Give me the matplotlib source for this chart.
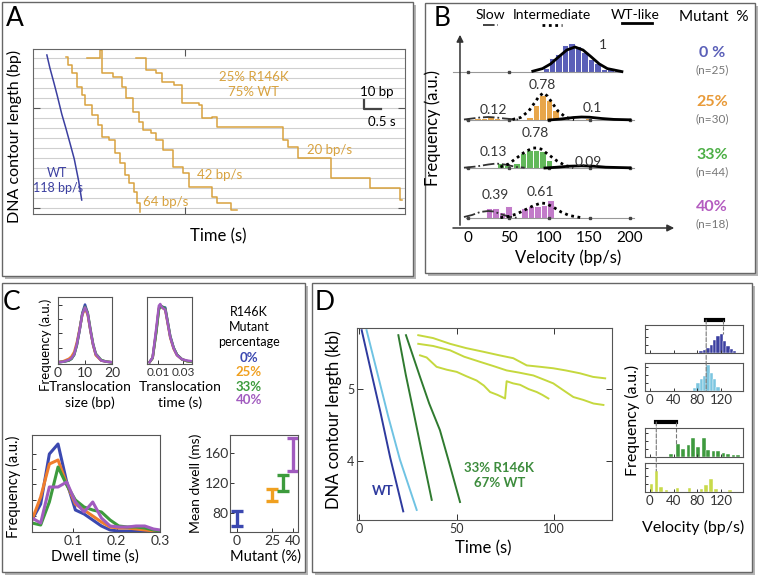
import numpy as np
import matplotlib
matplotlib.use('Agg')
import matplotlib.pyplot as plt
from matplotlib.patches import Rectangle, ConnectionPatch

plt.rcParams['font.family'] = ['Lato', 'DejaVu Sans']

# ---------------- data ----------------
# panel A: translocation traces (time s, DNA bp)
wt_t = [0.41, 0.50, 0.62, 0.72, 0.85, 0.97, 1.10, 1.22, 1.35, 1.44]
wt_bp = [159, 146, 131, 118, 100, 86, 70, 55, 33, 14]
v64_t = [0.97, 1.03, 1.15, 1.29, 1.44, 1.53, 1.74, 1.91, 2.03, 2.26, 2.41, 2.56, 2.71, 2.85, 3.00, 3.09, 3.15]
v64_bp = [157, 149, 141, 127, 119, 109, 99, 89, 77, 74, 61, 51, 39, 31, 22, 11, 2]
v42_t = [1.59, 1.97, 2.03, 2.38, 2.62, 2.76, 2.97, 3.12, 3.26, 3.50, 3.65, 3.85, 4.15, 4.44, 4.62, 5.30, 5.44, 5.85, 6.03]
v42_bp = [156, 164, 141, 137, 127, 116, 102, 92, 84, 81, 74, 64, 47, 41, 27, 17, 11, 4, 4]
v20_t = [3.06, 3.35, 3.65, 3.82, 4.18, 4.41, 4.91, 5.00, 5.30, 5.44, 7.40, 7.55, 7.85, 8.82, 9.97, 10.85, 10.90]
v20_bp = [156, 144, 141, 132, 129, 111, 109, 96, 97, 87, 74, 67, 56, 36, 26, 14, 14]

# panel B: velocity histograms (bin centre bp/s, height) and fitted curves
b_ticks = [0, 50, 100, 150, 200]
b1_v = [96, 104, 112, 120, 128, 136, 144, 152, 160, 168, 176, 184]
b1_h = [4, 14, 18, 27, 29, 26, 20, 13, 9, 3, 4, 3]
b1_fit_v = [80, 92, 102, 112, 122, 132, 142, 152, 162, 172, 190]
b1_fit_h = [0.8, 3.4, 8.1, 15.2, 22, 25, 22, 15.2, 8.1, 3.4, 0.4]
b2_v = [12, 20, 28, 36, 44, 76, 84, 92, 100, 108, 116, 132, 148, 164]
b2_h = [2, 2, 3, 2, 1.5, 3, 15, 25, 20, 10, 3, 1.5, 2, 1.5]
b2_slow_v = [-5, 5, 15, 25, 35, 45, 55, 65]
b2_slow_h = [0.5, 1.5, 2.5, 3, 2.5, 1.5, 0.8, 0.3]
b2_mid_v = [55, 65, 75, 82, 88, 93, 98, 104, 111, 121, 131]
b2_mid_h = [0.5, 2.5, 9, 17, 24, 27, 24, 17, 9, 2.5, 0.5]
b2_wt_v = [100, 115, 130, 140, 150, 165, 180, 200]
b2_wt_h = [0, 1, 2.5, 3, 2.8, 1.5, 0.6, 0.2]
b3_v = [40, 48, 60, 68, 76, 84, 92, 100, 108, 124, 140]
b3_h = [5, 3, 5, 15, 18, 18, 17, 8, 3, 1, 1]
b3_slow_v = [-5, 10, 25, 35, 45, 60, 70]
b3_slow_h = [0.3, 1.5, 3.5, 4.5, 3.5, 1, 0.3]
b3_mid_v = [40, 50, 60, 70, 80, 85, 90, 100, 110, 120, 130]
b3_mid_h = [1, 4, 10, 16, 20, 20, 19, 13, 7, 2.5, 0.5]
b3_wt_v = [95, 110, 125, 140, 155, 170, 200]
b3_wt_h = [0, 0.8, 1.8, 2.2, 1.8, 0.8, 0.2]
b4_v = [26, 34, 42, 50, 70, 78, 86, 94, 102]
b4_h = [10, 10, 6, 12, 10, 12, 12, 13, 18]
b4_slow_v = [-5, 5, 15, 25, 32, 40, 50, 60]
b4_slow_h = [1, 3, 6, 7, 6.5, 4, 1.5, 0.3]
b4_mid_v = [40, 50, 60, 70, 80, 90, 96, 105, 115, 125, 140]
b4_mid_h = [0.3, 1.5, 4, 8, 12, 15, 14.5, 11, 6, 2.5, 0.3]

# panel C: step size, step time, dwell time distributions, mean dwell
c1_x = [0, 2, 4, 5, 6, 7, 8, 9, 10, 11, 12, 13, 14, 16, 18, 20]
c1_y = {
    'blue': [0, 0.01, 0.03, 0.06, 0.13, 0.30, 0.55, 0.85, 1.00, 0.85, 0.55, 0.30, 0.13, 0.03, 0.01, 0],
    'orange': [0, 0.02, 0.06, 0.10, 0.18, 0.35, 0.58, 0.82, 0.93, 0.82, 0.55, 0.30, 0.12, 0.03, 0.01, 0],
    'green': [0, 0.01, 0.03, 0.06, 0.13, 0.30, 0.56, 0.84, 0.96, 0.86, 0.58, 0.32, 0.15, 0.04, 0.01, 0],
    'purple': [0, 0.01, 0.04, 0.07, 0.14, 0.32, 0.56, 0.83, 0.95, 0.84, 0.56, 0.31, 0.14, 0.03, 0.01, 0],
}
c2_x = [0.003, 0.0055, 0.0085, 0.0105, 0.0116, 0.013, 0.0156, 0.0175, 0.0196, 0.0223, 0.025, 0.029, 0.033, 0.036]
c2_y = {
    'blue': [0, 0.08, 0.55, 0.92, 0.96, 0.95, 0.94, 0.70, 0.45, 0.25, 0.13, 0.05, 0.02, 0.01],
    'orange': [0, 0.07, 0.55, 0.93, 0.98, 0.94, 0.90, 0.67, 0.42, 0.23, 0.12, 0.05, 0.02, 0.01],
    'green': [0, 0.07, 0.52, 0.90, 0.95, 0.96, 0.92, 0.70, 0.44, 0.25, 0.13, 0.05, 0.02, 0.01],
    'purple': [0, 0.08, 0.60, 0.97, 1.00, 0.94, 0.90, 0.68, 0.43, 0.24, 0.12, 0.05, 0.03, 0.02],
}
dwell_x = [0.005, 0.025, 0.045, 0.065, 0.085, 0.105, 0.125, 0.145, 0.165, 0.185, 0.205, 0.225, 0.245, 0.265, 0.285, 0.3]
dwell_y = {
    'blue': [12, 28, 78, 88, 50, 22, 18, 12, 6, 2, 1, 1, 1, 0.5, 0.3, 0],
    'orange': [12, 35, 68, 72, 48, 28, 22, 16, 10, 5, 4, 4, 3, 2, 1, 0],
    'green': [9, 7, 30, 65, 47, 32, 25, 22, 20, 12, 6, 5, 5, 4, 2, 1],
    'purple': [14, 9, 45, 45, 50, 30, 20, 30, 14, 6, 5, 5, 6, 6, 3, 2],
}
mutant_pct = [0, 25, 33, 40]
dwell_lo = [63, 96, 110, 136]
dwell_hi = [83, 112, 131, 180]

# panel D: long traces (time s, kb)
d_wt_t = [1.4, 6, 11, 16, 22.7]
d_wt_kb = [5.82, 5.27, 4.68, 4.05, 3.30]
d_lb_t = [3.9, 9, 15, 21, 29.6]
d_lb_kb = [5.82, 5.27, 4.62, 4.02, 3.32]
d_g1_t = [20.2, 24, 28, 32, 37.3]
d_g1_kb = [5.75, 5.20, 4.68, 4.15, 3.46]
d_g2_t = [24.1, 31.3, 36, 41.5, 46, 51.8]
d_g2_kb = [5.75, 5.17, 4.80, 4.43, 4.00, 3.43]
d_y1_t = [30.4, 38, 46.7, 55, 63.7, 72, 79.1, 86, 93, 99.6, 106, 113.3, 120, 126.2]
d_y1_kb = [5.75, 5.71, 5.63, 5.57, 5.52, 5.47, 5.43, 5.33, 5.31, 5.29, 5.26, 5.22, 5.17, 5.15]
d_y2_t = [30.4, 38, 46.7, 54, 62, 69, 75.7, 82, 89.4, 95, 99.6, 105, 109.9, 115, 120.2, 125.3]
d_y2_kb = [5.63, 5.60, 5.54, 5.45, 5.38, 5.32, 5.26, 5.23, 5.19, 5.13, 5.08, 4.98, 4.89, 4.85, 4.80, 4.78]
d_y3_t = [31.3, 34.7, 39.8, 45, 50.1, 55, 60.3, 64, 67.2, 71, 74.9, 75.3, 75.7, 79, 82.6, 87, 91.1, 94, 97.1]
d_y3_kb = [5.47, 5.44, 5.31, 5.27, 5.24, 5.18, 5.12, 5.05, 4.96, 4.92, 4.87, 5.00, 5.11, 5.08, 5.06, 5.00, 4.96, 4.92, 4.87]
h1_v = [86, 92, 98, 104, 109, 115, 121, 126, 132, 138, 143]
h1_h = [2, 3, 5, 8, 13, 17, 19, 12, 7, 4, 2]
h2_v = [76, 81, 87, 92, 98, 104, 109, 115]
h2_h = [3, 8, 12, 15, 26, 18, 12, 4]
h3_v = [36, 48, 56, 65, 73, 81, 91, 98, 107, 115, 124, 132, 141, 149]
h3_h = [3, 13, 8, 12, 19, 10, 19, 7, 6, 6, 4, 3, 2, 2]
h4_v = [3, 11, 19, 28, 47, 67, 87, 95, 103, 112, 135]
h4_h = [8, 21, 5, 2, 4, 4, 3, 7, 13, 3, 2]

# ---------------- figure helpers ----------------
W, H = 762, 580
fig = plt.figure(figsize=(W / 100, H / 100), dpi=100)

def box(x0, y0, x1, y1):
    return fig.add_axes([x0 / W, 1 - y1 / H, (x1 - x0) / W, (y1 - y0) / H])

def ftext(x, y, s, **kw):
    kw.setdefault('ha', 'center')
    kw.setdefault('va', 'center')
    fig.text(x / W, 1 - y / H, s, **kw)

def frame(x0, y0, x1, y1):
    fig.patches.append(Rectangle(((x0 + 3) / W, 1 - (y1 + 3) / H), (x1 - x0) / W, (y1 - y0) / H,
                                 transform=fig.transFigure, facecolor='#b5b5b5', edgecolor='none', zorder=-2))
    fig.patches.append(Rectangle((x0 / W, 1 - y1 / H), (x1 - x0) / W, (y1 - y0) / H,
                                 transform=fig.transFigure, facecolor='white', edgecolor='#666666', lw=1, zorder=-1))

def style(ax, size=9):
    for s in ax.spines.values():
        s.set_color('#555555')
        s.set_linewidth(0.8)
    ax.tick_params(direction='in', length=3, width=0.7, labelsize=size, pad=2, colors='#333333')

frame(2, 2, 413, 276)
frame(425, 3, 755, 273)
frame(2, 283, 305, 572)
frame(312, 283, 752, 572)

# ---------------- panel A ----------------
orange_a = '#d8a23e'
axA = box(33, 49, 405, 214)
axA.set_xlim(0, 11)
axA.set_ylim(0, 165)
for y in np.arange(6, 160, 10):
    axA.axhline(y, color='#cfcfcf', lw=0.8, zorder=0)
axA.plot(wt_t, wt_bp, color='#3b3fa0', lw=1.1)
for t, bp in [(v64_t, v64_bp), (v42_t, v42_bp), (v20_t, v20_bp)]:
    axA.plot(t, bp, color=orange_a, lw=1.1, drawstyle='steps-post')
axA.set_xticks([4.5])
axA.set_yticks([6, 106])
axA.tick_params(direction='in', length=5, top=True, right=True, labelleft=False, labelbottom=False, color='#555555')
for s in axA.spines.values():
    s.set_color('#666666')
axA.plot([9.79, 9.79, 10.29], [114, 105, 105], color='#444444', lw=1.6)
axA.text(10.15, 122, '10 bp', ha='center', va='center', fontsize=9.5)
axA.text(10.3, 92, '0.5 s', ha='center', va='center', fontsize=9.5)
axA.text(0.71, 41, 'WT', color='#3b3fa0', ha='center', va='center', fontsize=9)
axA.text(0.74, 26, '118 bp/s', color='#3b3fa0', ha='center', va='center', fontsize=9)
axA.text(3.24, 12, '64 bp/s', color=orange_a, va='center', fontsize=9.5)
axA.text(4.85, 39, '42 bp/s', color=orange_a, va='center', fontsize=9.5)
axA.text(8.09, 64, '20 bp/s', color=orange_a, va='center', fontsize=9.5)
axA.text(6.53, 137, '25% R146K', color=orange_a, ha='center', va='center', fontsize=9.5)
axA.text(6.53, 122, '75% WT', color=orange_a, ha='center', va='center', fontsize=9.5)
ftext(15, 18, 'A', fontsize=19)
ftext(14, 136, 'DNA contour length (bp)', rotation=90, fontsize=11.5)
ftext(218, 236, 'Time (s)', fontsize=12)

# ---------------- panel B ----------------
cb = ['#5a5fb8', '#e8a64a', '#62b85a', '#c27bc9']
axB = box(445, 30, 685, 232)
axB.set_xlim(-28.4, 267.9)
axB.set_ylim(0, 202)
axB.axis('off')
axB.annotate('', xy=(-9.9, 200), xytext=(-9.9, 4), arrowprops=dict(arrowstyle='-|>', color='#333333', lw=1.1))
axB.annotate('', xy=(258, 4), xytext=(-22, 4), arrowprops=dict(arrowstyle='-|>', color='#333333', lw=1.1))
base = [160, 112, 64, 14]
axB.plot([-18.5, 190], [base[0], base[0]], color='#999999', lw=0.8)
axB.plot([0, 50], [base[0], base[0]], 's', color='#444444', ms=1.5)
for b in base[1:]:
    axB.plot([-3, 205], [b, b], color='#999999', lw=0.8)
    axB.plot(b_ticks, [b] * 5, 's', color='#444444', ms=1.5)
rows = [(b1_v, b1_h), (b2_v, b2_h), (b3_v, b3_h), (b4_v, b4_h)]
for i, (v, h) in enumerate(rows):
    axB.bar(v, h, width=8, bottom=base[i], color=cb[i], edgecolor='white', lw=0.7)
dot = dict(color='black', lw=2, linestyle=(0, (1, 1.3)))
dashdot = dict(color='#333333', lw=1.3, linestyle='-.')
solid = dict(color='black', lw=2)
axB.plot(b1_fit_v, np.array(b1_fit_h) + base[0], **solid)
axB.plot(b2_slow_v, np.array(b2_slow_h) + base[1], **dashdot)
axB.plot(b2_mid_v, np.array(b2_mid_h) + base[1], **dot)
axB.plot(b2_wt_v, np.array(b2_wt_h) + base[1], **solid)
axB.plot(b3_slow_v, np.array(b3_slow_h) + base[2], **dashdot)
axB.plot(b3_mid_v, np.array(b3_mid_h) + base[2], **dot)
axB.plot(b3_wt_v, np.array(b3_wt_h) + base[2], **solid)
axB.plot(b4_slow_v, np.array(b4_slow_h) + base[3], **dashdot)
axB.plot(b4_mid_v, np.array(b4_mid_h) + base[3], **dot)
for v in b_ticks:
    axB.text(v, -6, str(v), ha='center', va='center', fontsize=11, clip_on=False)
# legend samples
axB.plot([18.5, 37], [207, 207], clip_on=False, **dashdot)
axB.plot([91, 116], [207, 207], clip_on=False, **dot)
axB.plot([190, 227], [209, 209], clip_on=False, **solid)
ftext(442, 19, 'B', fontsize=19)
ftext(490, 15, 'Slow', fontsize=10)
ftext(552, 15, 'Intermediate', fontsize=10)
ftext(635, 15, 'WT-like', fontsize=10)
ftext(714, 17, 'Mutant  %', fontsize=11)
ftext(433, 128, 'Frequency (a.u.)', rotation=90, fontsize=12)
ftext(568, 258, 'Velocity (bp/s)', fontsize=12)
for x, y, s in [(603, 45, '1'), (542, 85, '0.78'), (493, 110, '0.12'), (592, 108, '0.1'),
                (535, 133, '0.78'), (493, 152, '0.13'), (588, 162, '0.09'),
                (495, 195, '0.39'), (540, 192, '0.61')]:
    ftext(x, y, s, fontsize=10, color='#333333')
lab_col = ['#5a5fb8', '#e89a38', '#4caf45', '#b45cc0']
for i, (p, n, y) in enumerate([('0 %', 'n=25', 53), ('25%', 'n=30', 102), ('33%', 'n=44', 155), ('40%', 'n=18', 207)]):
    ftext(712, y, p, fontsize=11.5, fontweight='bold', color=lab_col[i])
    ftext(712, y + 17, '(' + n + ')', fontsize=8.5, color='#777777')

# ---------------- panel C ----------------
cc = {'blue': '#3b48b0', 'orange': '#ef7d2c', 'green': '#3d9b3d', 'purple': '#a15bbf'}
order = ['blue', 'orange', 'green', 'purple']
axC1 = box(58, 297, 112, 364)
for k in order:
    axC1.plot(c1_x, c1_y[k], color=cc[k], lw=1.8)
axC1.set_xlim(0, 20)
axC1.set_ylim(-0.03, 1.13)
axC1.set_xticks([0, 10, 20])
axC1.set_yticks([0.25, 0.5, 0.75, 1.0])
axC1.set_yticklabels([])
style(axC1, 10)
axC2 = box(147, 297, 192, 364)
for k in ['blue', 'orange', 'green', 'purple']:
    axC2.plot(c2_x, c2_y[k], color=cc[k], lw=1.8)
axC2.set_xlim(0.001, 0.037)
axC2.set_ylim(-0.03, 1.12)
axC2.set_xticks([0.01, 0.03])
axC2.set_xticklabels(['0.01', '0.03'])
axC2.set_yticks([])
style(axC2, 8.5)
ftext(12, 303, 'C', fontsize=19)
ftext(46, 345, 'Frequency (a.u.)', rotation=90, fontsize=9.5)
ftext(90, 387, 'Translocation', fontsize=10)
ftext(90, 403, 'size (bp)', fontsize=10)
ftext(180, 387, 'Translocation', fontsize=10)
ftext(180, 403, 'time (s)', fontsize=10)
ftext(249, 312, 'R146K', fontsize=9)
ftext(249, 327, 'Mutant', fontsize=9)
ftext(249, 342, 'percentage', fontsize=9)
for s, y, col in [('0%', 358, '#3b48b0'), ('25%', 372, '#f0a020'), ('33%', 387, '#3d9b3d'), ('40%', 400, '#a15bbf')]:
    ftext(249, y, s, fontsize=9.5, fontweight='bold', color=col)

axC3 = box(32, 435, 160, 532)
for k in order:
    axC3.plot(dwell_x, dwell_y[k], color=cc[k], lw=2.2)
axC3.set_xlim(0.005, 0.3)
axC3.set_ylim(0, 97)
axC3.set_xticks([0.1, 0.2, 0.3])
axC3.set_yticks([16, 32, 48, 63, 78])
axC3.set_yticklabels([])
style(axC3, 10)
ftext(13, 487, 'Frequency (a.u.)', rotation=90, fontsize=10.5)
ftext(95, 557, 'Dwell time (s)', fontsize=10.5)

axC4 = box(230, 435, 298, 532)
err_col = ['#3b48b0', '#f0a020', '#3d9b3d', '#a15bbf']
for x, lo, hi, c in zip(mutant_pct, dwell_lo, dwell_hi, err_col):
    axC4.errorbar([x], [(lo + hi) / 2], yerr=[(hi - lo) / 2], fmt='none', ecolor=c,
                  elinewidth=2.4, capsize=4, capthick=2.4)
axC4.set_xlim(-5, 43.6)
axC4.set_ylim(55, 184)
axC4.set_xticks([0, 25, 40])
axC4.set_yticks([80, 120, 160])
style(axC4, 10)
axC4.tick_params(axis='y', pad=1)
ftext(196, 483, 'Mean dwell (ms)', rotation=90, fontsize=10)
ftext(265, 557, 'Mutant (%)', fontsize=10.5)

# ---------------- panel D ----------------
axD = box(357, 328, 612, 520)
axD.plot(d_wt_t, d_wt_kb, color='#2e3a9e', lw=1.4)
axD.plot(d_lb_t, d_lb_kb, color='#6fc3e3', lw=1.4)
axD.plot(d_g1_t, d_g1_kb, color='#2f7a2f', lw=1.4)
axD.plot(d_g2_t, d_g2_kb, color='#2f7a2f', lw=1.4)
for t, kb in [(d_y1_t, d_y1_kb), (d_y2_t, d_y2_kb), (d_y3_t, d_y3_kb)]:
    axD.plot(t, kb, color='#c5d83e', lw=1.4)
axD.set_xlim(-1, 129.7)
axD.set_ylim(3.18, 5.85)
axD.set_xticks([0, 50, 100])
axD.set_yticks([4, 5])
style(axD, 9)
axD.tick_params(top=True, right=True, length=4)
axD.text(12, 3.58, 'WT', color='#2e3a9e', fontsize=9.5, fontweight='bold', ha='center', va='center')
axD.text(72, 3.91, '33% R146K', color='#3d8c3d', fontsize=9.5, fontweight='bold', ha='center', va='center')
axD.text(72, 3.70, '67% WT', color='#3d8c3d', fontsize=9.5, fontweight='bold', ha='center', va='center')
ftext(325, 302, 'D', fontsize=19)
ftext(334, 420, 'DNA contour length (kb)', rotation=90, fontsize=12)
ftext(483, 548, 'Time (s)', fontsize=12)

hists = [((325, 353), h1_v, h1_h, '#3b3fa0'), ((363, 391), h2_v, h2_h, '#7cc6e0'),
         ((428, 457), h3_v, h3_h, '#3e9a3e'), ((463, 492), h4_v, h4_h, '#c8da4a')]
hax = []
for (y0, y1), v, h, c in hists:
    ax = box(645, y0, 743, y1)
    ax.bar(v, h, width=6, color=c, edgecolor='white', lw=0.3)
    ax.set_xlim(-8, 157)
    ax.set_ylim(0, y1 - y0)
    ax.set_xticks([0, 40, 80, 120])
    ax.set_yticks([8, 16, 24])
    ax.set_yticklabels([])
    style(ax, 9.5)
    ax.tick_params(length=2)
    hax.append(ax)
for ax in [hax[0], hax[2]]:
    ax.set_xticklabels([])
hax[0].plot([95, 124], [33, 33], color='black', lw=3, clip_on=False)
hax[2].plot([11, 45], [35, 35], color='black', lw=3, clip_on=False)
dash = dict(linestyle='--', color='#777777', lw=0.8)
hax[0].plot([124, 124], [33, 19], clip_on=False, **dash)
hax[2].plot([45, 45], [35, 13], clip_on=False, **dash)
fig.add_artist(ConnectionPatch(xyA=(95, 33), coordsA=hax[0].transData, xyB=(95, 0), coordsB=hax[1].transData, **dash))
fig.add_artist(ConnectionPatch(xyA=(11, 35), coordsA=hax[2].transData, xyB=(11, 21), coordsB=hax[3].transData, **dash))
ftext(632, 420, 'Frequency (a.u.)', rotation=90, fontsize=11.5)
ftext(693, 527, 'Velocity (bp/s)', fontsize=11.5)

fig.savefig('out.png', dpi=100)
